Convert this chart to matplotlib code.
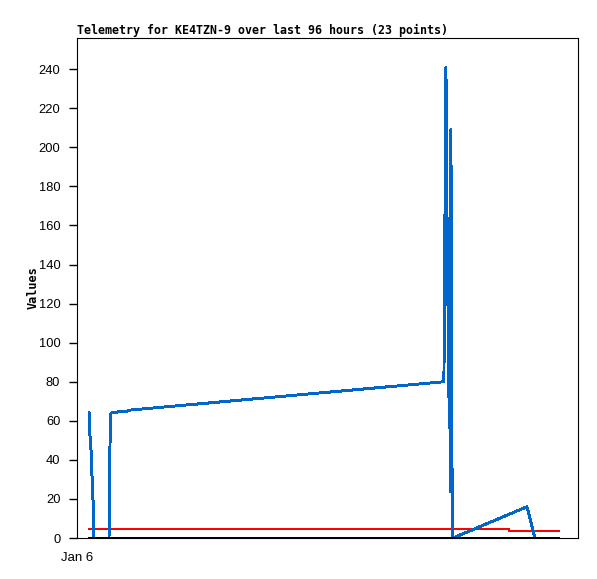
import matplotlib
matplotlib.use("Agg")
import matplotlib.pyplot as plt

# hours since Jan 6 00:00
blue_t = [2.30, 2.49, 2.68, 2.87, 3.07, 3.16, 3.26, 6.13, 6.23, 6.32, 6.51, 7.66, 9.58, 10.16,
          70.32, 70.51, 70.70, 70.80, 70.90, 71.09, 71.28, 71.41, 71.53, 71.66, 71.80, 71.91,
          72.05, 86.23, 87.76]
blue_v = [64.5, 52, 45, 32, 19, 6, 0, 0, 16, 48, 64, 64.5, 65, 65.5,
          80, 160, 241, 217, 169, 121, 72, 104, 24, 209, 105, 5,
          0, 16, 0]

red_t = [2.30, 82.78, 82.78, 92.36]
red_v = [4.6, 4.6, 3.6, 3.6]

black_t = [2.30, 92.36]
black_v = [0, 0]

yticks = list(range(0, 241, 20))

fig = plt.figure(figsize=(5.97, 5.79), dpi=100)
ax = fig.add_axes([0.129, 0.0708, 0.839, 0.8636])

ax.plot(red_t, red_v, color='#ff0000', lw=1.3, zorder=2, antialiased=False)
ax.plot(blue_t, blue_v, color='#0066cc', lw=1.4, zorder=3, antialiased=False)
ax.plot(black_t, black_v, color='#000000', lw=1.3, zorder=4, antialiased=False)

ax.set_xlim(0, 96)
ax.set_ylim(0, 256)
ax.set_yticks(yticks)
ax.set_yticklabels([str(v) for v in yticks], family='Liberation Sans', fontsize=9.3)
ax.set_xticks([0])
ax.set_xticklabels(['Jan 6'], family='Liberation Sans', fontsize=9.5)
ax.tick_params(axis='y', length=6, width=1, pad=6)
ax.tick_params(axis='x', length=0, pad=10)
for s in ax.spines.values():
    s.set_linewidth(0.8)

ax.set_ylabel('Values', family='DejaVu Sans Mono', fontweight='bold', fontsize=8.6)
ax.yaxis.set_label_coords(-0.074, 0.5)
ax.set_title('Telemetry for KE4TZN-9 over last 96 hours (23 points)',
             family='DejaVu Sans Mono', fontweight='bold', fontsize=8.4, loc='left', pad=3)

fig.savefig('out.png', dpi=100)
